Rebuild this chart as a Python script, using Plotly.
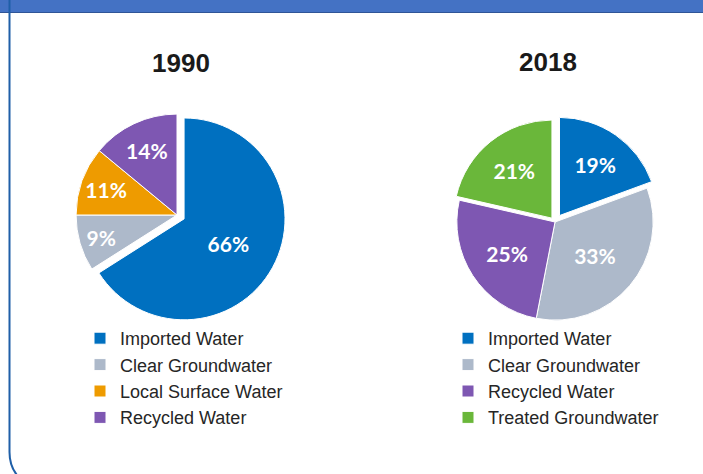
import plotly.graph_objects as go

W, H = 703, 474

labels_1990 = ["Imported Water", "Clear Groundwater", "Local Surface Water", "Recycled Water"]
values_1990 = [66, 9, 11, 14]
text_1990 = ["66%", "9%", "11%", "14%"]
colors_1990 = ["#0070C0", "#ADB9CA", "#EE9B00", "#7E57B2"]
pull_1990 = [0.08, 0, 0, 0]

labels_2018 = ["Imported Water", "Clear Groundwater", "Recycled Water", "Treated Groundwater"]
values_2018 = [19, 33, 25, 21]
text_2018 = ["19%", "33%", "25%", "21%"]
colors_2018 = ["#0070C0", "#ADB9CA", "#7E57B2", "#6AB73A"]
pull_2018 = [0.08, 0, 0, 0.05]

titles = ["1990", "2018"]


def px(x):
    return x / W


def py(y):
    return 1 - y / H


fig = go.Figure()

fig.add_trace(go.Pie(
    labels=labels_1990, values=values_1990, text=text_1990,
    textinfo="text", textposition="inside", insidetextorientation="horizontal",
    marker=dict(colors=colors_1990, line=dict(color="white", width=1)),
    pull=pull_1990, sort=False, direction="clockwise", rotation=0,
    domain=dict(x=[px(68), px(286)], y=[py(324), py(106)]),
    textfont=dict(family="Lato", size=21, color="white", weight="bold"),
    hoverinfo="skip", legend="legend", showlegend=True,
))

# a trailing space keeps the 2018 legend entries separate from the 1990 ones
fig.add_trace(go.Pie(
    labels=[lab + " " for lab in labels_2018], values=values_2018, text=text_2018,
    textinfo="text", textposition="inside", insidetextorientation="horizontal",
    marker=dict(colors=colors_2018, line=dict(color="white", width=1)),
    pull=pull_2018, sort=False, direction="clockwise", rotation=0,
    domain=dict(x=[px(449), px(661)], y=[py(328), py(116)]),
    textfont=dict(family="Lato", size=21, color="white", weight="bold"),
    hoverinfo="skip", legend="legend2", showlegend=True,
))

shapes = [
    dict(type="rect", xref="paper", yref="paper", x0=0, x1=1, y0=py(13), y1=1,
         fillcolor="#4472C4", line=dict(width=0), layer="above"),
    dict(type="line", xref="paper", yref="paper", x0=0, x1=1, y0=py(12.5), y1=py(12.5),
         line=dict(color="#2F5597", width=1)),
    dict(type="path", xref="paper", yref="paper",
         path=f"M {px(9.5)},{py(0)} L {px(9.5)},{py(452)} Q {px(9.5)},{py(470)} {px(22)},{py(480)}",
         line=dict(color="#1F5FA8", width=2)),
]

annotations = [
    dict(text=f"<b>{titles[0]}</b>", x=px(180.5), y=py(62.5), xref="paper", yref="paper",
         showarrow=False, xanchor="center", yanchor="middle",
         font=dict(family="Liberation Sans, Arial", size=26, color="#1A1A1A")),
    dict(text=f"<b>{titles[1]}</b>", x=px(548), y=py(62), xref="paper", yref="paper",
         showarrow=False, xanchor="center", yanchor="middle",
         font=dict(family="Liberation Sans, Arial", size=26, color="#1A1A1A")),
]

legend_font = dict(family="Liberation Sans, Arial", size=18, color="#262626")

fig.update_layout(
    width=W, height=H, autosize=False,
    margin=dict(l=0, r=0, t=0, b=0),
    paper_bgcolor="white", plot_bgcolor="white",
    shapes=shapes, annotations=annotations,
    legend=dict(x=px(80), y=py(320), xanchor="left", yanchor="top",
                font=legend_font, bgcolor="rgba(0,0,0,0)", traceorder="normal"),
    legend2=dict(x=px(448), y=py(320), xanchor="left", yanchor="top",
                 font=legend_font, bgcolor="rgba(0,0,0,0)", traceorder="normal"),
)

fig.write_html("out.html", config={"displayModeBar": False},
               post_script="document.body.style.margin='0';")
